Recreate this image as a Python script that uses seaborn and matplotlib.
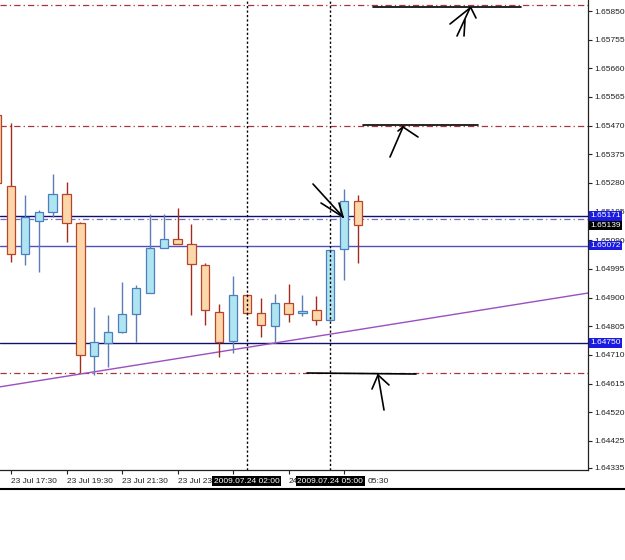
import matplotlib
matplotlib.use("Agg")
import matplotlib.pyplot as plt
import matplotlib.transforms as mtransforms
from matplotlib.lines import Line2D
import numpy as np
import seaborn as sns

# ---------------- data ----------------
times = ["23 Jul 17:00", "23 Jul 17:30", "23 Jul 18:00", "23 Jul 18:30", "23 Jul 19:00",
         "23 Jul 19:30", "23 Jul 20:00", "23 Jul 20:30", "23 Jul 21:00", "23 Jul 21:30",
         "23 Jul 22:00", "23 Jul 22:30", "23 Jul 23:00", "23 Jul 23:30", "24 Jul 00:00",
         "24 Jul 00:30", "24 Jul 01:00", "24 Jul 01:30", "24 Jul 02:00", "24 Jul 02:30",
         "24 Jul 03:00", "24 Jul 03:30", "24 Jul 04:00", "24 Jul 04:30", "24 Jul 05:00",
         "24 Jul 05:30", "24 Jul 06:00"]
opens = [1.65505, 1.65270, 1.65044, 1.65154, 1.65184, 1.65243, 1.65147, 1.64706, 1.64749,
         1.64786, 1.64846, 1.64915, 1.65064, 1.65094, 1.65078, 1.65008, 1.64852, 1.64756,
         1.64909, 1.64849, 1.64806, 1.64882, 1.64849, 1.64859, 1.64826, 1.65061, 1.65220]
highs = [1.65515, 1.65479, 1.65240, 1.65190, 1.65310, 1.65283, 1.65150, 1.64869, 1.64842,
         1.64952, 1.64942, 1.65177, 1.65177, 1.65197, 1.65144, 1.65015, 1.64879, 1.64972,
         1.64912, 1.64899, 1.64912, 1.64945, 1.64909, 1.64905, 1.65061, 1.65260, 1.65240]
lows = [1.65270, 1.65018, 1.65008, 1.64985, 1.65167, 1.65084, 1.64650, 1.64643, 1.64670,
        1.64783, 1.64753, 1.64915, 1.65064, 1.65078, 1.64842, 1.64809, 1.64703, 1.64716,
        1.64842, 1.64769, 1.64749, 1.64819, 1.64839, 1.64809, 1.64822, 1.64958, 1.65015]
closes = [1.65280, 1.65044, 1.65167, 1.65184, 1.65243, 1.65147, 1.64710, 1.64753, 1.64786,
          1.64846, 1.64932, 1.65064, 1.65094, 1.65078, 1.65011, 1.64859, 1.64753, 1.64909,
          1.64849, 1.64809, 1.64882, 1.64846, 1.64856, 1.64826, 1.65058, 1.65220, 1.65139]

# time-axis ticks (every 2 h) and the part of each label left visible by the tags
tick_times = ["23 Jul 17:30", "23 Jul 19:30", "23 Jul 21:30", "23 Jul 23:30",
              "24 Jul 01:30", "24 Jul 03:30", "24 Jul 05:30"]
tick_texts = ["23 Jul 17:30", "23 Jul 19:30", "23 Jul 21:30", "23 Jul 23:",
              "", "24", ""]
marked_times = ["24 Jul 02:00", "24 Jul 05:00"]
marked_labels = ["2009.07.24 02:00", "2009.07.24 05:00"]
after_tag_text = "05:30"

price_ticks = [1.65850, 1.65755, 1.65660, 1.65565, 1.65470, 1.65375, 1.65280, 1.65185,
               1.65090, 1.64995, 1.64900, 1.64805, 1.64710, 1.64615, 1.64520, 1.64425, 1.64335]

red_levels = [1.65870, 1.65470, 1.64650]
navy_levels = [1.65171, 1.64750]
blue_level = 1.65072
bluedash_level = 1.65160
bid_price = 1.65139
trend_x = [0.2075, 42.57]
trend_y = [1.64604, 1.64915]

# ---------------- layout ----------------
W, H = 625, 560
PX0, PY0, PX1, PY1 = 0, 0, 588, 470          # plot area in pixels
XLIM = (0.2075, 42.571)
YLIM = (1.643283, 1.658865)

def px2x(px):
    return XLIM[0] + (px - PX0) / (PX1 - PX0) * (XLIM[1] - XLIM[0])

def py2p(py):
    return YLIM[1] - (py - PY0) / (PY1 - PY0) * (YLIM[1] - YLIM[0])

# hand-drawn annotation strokes (pixel space)
strokes = [
    [(373, 7), (521, 7)], [(457, 36), (470, 8)], [(464, 36), (465, 20)],
    [(450, 24), (470, 8)], [(476, 18), (471, 8)],
    [(363, 125), (478, 125)], [(390, 157), (403, 127)], [(418, 137), (403, 127)],
    [(398, 131), (403, 127)],
    [(307, 373), (416, 374)], [(384, 410), (378, 375)], [(372, 389), (378, 375)],
    [(389, 385), (378, 375)],
    [(313, 184), (343, 217)], [(321, 203), (343, 217)], [(339, 203), (343, 217)],
]

sns.set_theme(style="white")
plt.rcParams["font.family"] = ["Liberation Sans", "DejaVu Sans"]

fig = plt.figure(figsize=(W / 100, H / 100), dpi=100)
ax = fig.add_axes([PX0 / W, 1 - PY1 / H, (PX1 - PX0) / W, (PY1 - PY0) / H])
ax.set_facecolor("white")

xs = np.arange(len(times))
bull_fill, bull_edge, bull_wick = "#aee5f0", "#4d7fc0", "#5c7db5"
bear_fill, bear_edge, bear_wick = "#fbd7aa", "#b8442c", "#a02c1c"

for i in xs:
    o, h, l, c = opens[i], highs[i], lows[i], closes[i]
    up = c >= o
    ax.vlines(i, l, h, color=bull_wick if up else bear_wick, lw=1.0, zorder=2)
    ax.bar(i, abs(c - o) if abs(c - o) > 1e-6 else 0.00001, bottom=min(o, c), width=0.6,
           color=bull_fill if up else bear_fill, edgecolor=bull_edge if up else bear_edge,
           linewidth=0.9, zorder=3)

# levels
for lv in red_levels:
    ax.axhline(lv, color="#a8343c", lw=0.9, ls=(0, (5, 2.5, 1, 2.5)), zorder=1)
for lv in navy_levels:
    ax.axhline(lv, color="#10106e", lw=1.0, zorder=1)
ax.axhline(blue_level, color="#5050c0", lw=1.0, zorder=1)
ax.axhline(bluedash_level, color="#7070c0", lw=0.9, ls=(0, (5, 2.5, 1, 2.5)), zorder=1)

sns.lineplot(x=trend_x, y=trend_y, ax=ax, color="#9a50c0", lw=1.0, zorder=1)

for t in marked_times:
    ax.axvline(times.index(t), color="black", lw=1.0, ls=(0, (1.6, 1.6)), zorder=5)

for seg in strokes:
    (x0, y0), (x1, y1) = seg
    ax.plot([px2x(x0), px2x(x1)], [py2p(y0), py2p(y1)], color="black", lw=1.2,
            solid_capstyle="round", zorder=6)

ax.set_xlim(*XLIM)
ax.set_ylim(*YLIM)

# axes styling
for s in ["left", "top"]:
    ax.spines[s].set_visible(False)
for s in ["right", "bottom"]:
    ax.spines[s].set_color("#222222")
    ax.spines[s].set_linewidth(0.9)

ax.yaxis.tick_right()
ax.set_yticks(price_ticks)
ax.set_yticklabels([f"{p:.5f}" for p in price_ticks])
ax.set_xticks([times.index(t) for t in tick_times])
ax.set_xticklabels(tick_texts)
for lbl in ax.get_xticklabels():
    lbl.set_ha("left")
ax.tick_params(axis="y", which="both", right=True, left=False, direction="out",
               length=3, width=0.8, pad=1.5, labelsize=6, colors="#222222")
ax.tick_params(axis="x", which="both", bottom=True, direction="out",
               length=3, width=0.8, pad=2.5, labelsize=6, colors="#222222")
ax.grid(False)

# price tags on right axis
tr_y = mtransforms.blended_transform_factory(ax.transAxes, ax.transData)
for val, bg in [(navy_levels[0], "#1a1ae0"), (bid_price, "black"),
                (blue_level, "#1a1ae0"), (navy_levels[1], "#1a1ae0")]:
    ax.text(1.004, val, f"{val:.5f}", transform=tr_y, ha="left", va="center",
            fontsize=6, color="white", clip_on=False, zorder=10,
            bbox=dict(boxstyle="square,pad=0.15", fc=bg, ec="none"))

# time tags on bottom axis
tr_x = mtransforms.blended_transform_factory(ax.transData, ax.transAxes)
tags = []
for t, lab in zip(marked_times, marked_labels):
    tags.append(ax.text(times.index(t), -0.0165, lab, transform=tr_x, ha="center", va="top",
                        fontsize=6, color="white", clip_on=False, zorder=10,
                        bbox=dict(boxstyle="square,pad=0.2", fc="black", ec="none")))
ax.annotate(after_tag_text, xy=(1, 0.5), xycoords=tags[-1], xytext=(3, 0),
            textcoords="offset points", ha="left", va="center", fontsize=6,
            color="#222222", annotation_clip=False)

# bottom separator line of the window
yline = 1 - 489 / H
fig.add_artist(Line2D([0, 1], [yline, yline], transform=fig.transFigure,
                      color="black", lw=1.5))

fig.savefig("out.png", dpi=100, facecolor="white")
